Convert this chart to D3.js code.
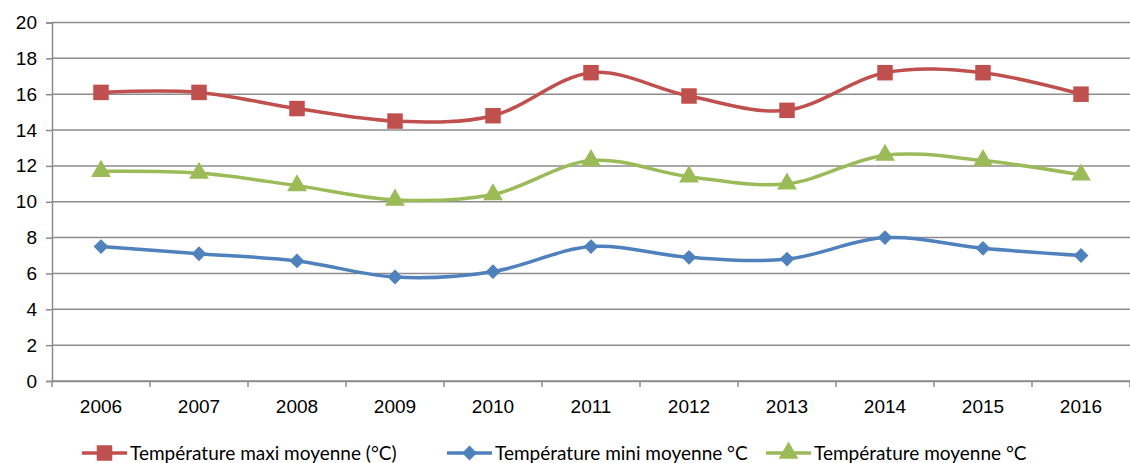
<!DOCTYPE html>
<html>
<head>
<meta charset="utf-8">
<script src="https://cdn.jsdelivr.net/npm/d3@7"></script>
<style>
  html, body { margin: 0; padding: 0; background: #fff; }
  svg { display: block; font-family: Lato, "Open Sans", sans-serif; }
</style>
</head>
<body>
<svg id="chart" width="1130" height="463"></svg>
<script>
// Années
const years = ["2006", "2007", "2008", "2009", "2010", "2011", "2012", "2013", "2014", "2015", "2016"];
// Températures (°C)
const tMax = [16.1, 16.1, 15.2, 14.5, 14.8, 17.2, 15.9, 15.1, 17.2, 17.2, 16.0];
const tMin = [7.5, 7.1, 6.7, 5.8, 6.1, 7.5, 6.9, 6.8, 8.0, 7.4, 7.0];
const tMoy = [11.7, 11.6, 10.9, 10.1, 10.4, 12.3, 11.4, 11.0, 12.6, 12.3, 11.5];
const yTicks = [0, 2, 4, 6, 8, 10, 12, 14, 16, 18, 20];
const seriesNames = ["Température maxi moyenne (°C)", "Température mini moyenne °C", "Température moyenne °C"];

// Diamond drawn as a square turned 45°
const diamond = {
  draw(context, size) {
    const r = Math.sqrt(size / 2);
    context.moveTo(0, -r);
    context.lineTo(r, 0);
    context.lineTo(0, r);
    context.lineTo(-r, 0);
    context.closePath();
  }
};

const series = [
  { name: seriesNames[0], values: tMax, color: "#C0504D", symbol: d3.symbolSquare, size: 240 },
  { name: seriesNames[1], values: tMin, color: "#4F81BD", symbol: diamond, size: 110 },
  { name: seriesNames[2], values: tMoy, color: "#9BBB59", symbol: d3.symbolTriangle, size: 170 }
];

const svg = d3.select("#chart");
const plotLeft = 52, plotRight = 1130, plotTop = 22.5, plotBottom = 381;
const gridColor = "#8c8c8c";

const x = d3.scaleBand().domain(years).range([plotLeft, plotRight]).paddingInner(0).paddingOuter(0);
const y = d3.scaleLinear().domain([0, 20]).range([plotBottom, plotTop]);

// Gridlines
svg.append("g")
  .selectAll("line")
  .data(yTicks)
  .join("line")
  .attr("x1", plotLeft).attr("x2", plotRight)
  .attr("y1", d => y(d)).attr("y2", d => y(d))
  .attr("stroke", gridColor).attr("stroke-width", 1.5);

// Y axis
const yAxis = svg.append("g")
  .attr("transform", `translate(${plotLeft},0)`)
  .call(d3.axisLeft(y).tickValues(yTicks).tickSize(6).tickPadding(9).tickFormat(d3.format("d")));
yAxis.select(".domain").attr("stroke", gridColor).attr("stroke-width", 1.5);
yAxis.selectAll(".tick line").attr("stroke", gridColor).attr("stroke-width", 1.5);
yAxis.selectAll("text").attr("font-size", 19).attr("fill", "#000");

// X axis
const xAxis = svg.append("g")
  .attr("transform", `translate(0,${plotBottom})`)
  .call(d3.axisBottom(x).tickSize(0).tickPadding(19));
xAxis.select(".domain").attr("stroke", gridColor).attr("stroke-width", 1.5);
xAxis.selectAll("text").attr("font-size", 19).attr("fill", "#000");
// category boundary ticks
const boundaries = years.map(d => x(d)).concat([x(years[years.length - 1]) + x.bandwidth()]);
xAxis.append("g")
  .selectAll("line")
  .data(boundaries)
  .join("line")
  .attr("x1", d => d).attr("x2", d => d)
  .attr("y1", 0).attr("y2", 6)
  .attr("stroke", gridColor).attr("stroke-width", 1.5);

const cx = d => x(d) + x.bandwidth() / 2;
const line = d3.line()
  .x((d, i) => cx(years[i]))
  .y(d => y(d))
  .curve(d3.curveCardinal.tension(0));

// Lines
series.forEach(s => {
  svg.append("path")
    .datum(s.values)
    .attr("d", line)
    .attr("fill", "none")
    .attr("stroke", s.color)
    .attr("stroke-width", 3.5)
    .attr("stroke-linejoin", "round");
});

// Markers
series.forEach(s => {
  svg.append("g")
    .selectAll("path")
    .data(s.values)
    .join("path")
    .attr("d", d3.symbol().type(s.symbol).size(s.size))
    .attr("transform", (d, i) => `translate(${cx(years[i])},${y(d)})`)
    .attr("fill", s.color);
});

// Legend
const legendPos = [82, 447, 766];
const leg = svg.append("g");
series.forEach((s, i) => {
  const lx = legendPos[i], ly = 453;
  const g = leg.append("g").attr("transform", `translate(${lx},${ly})`);
  g.append("line").attr("x1", 0).attr("x2", 45).attr("y1", 0).attr("y2", 0)
    .attr("stroke", s.color).attr("stroke-width", 3.5);
  g.append("path").attr("d", d3.symbol().type(s.symbol).size(s.size))
    .attr("transform", "translate(22.5,0)").attr("fill", s.color);
  g.append("text").attr("x", 48).attr("y", 0).attr("dy", "0.35em")
    .attr("font-size", 19).attr("fill", "#000").text(s.name);
});
</script>
</body>
</html>
